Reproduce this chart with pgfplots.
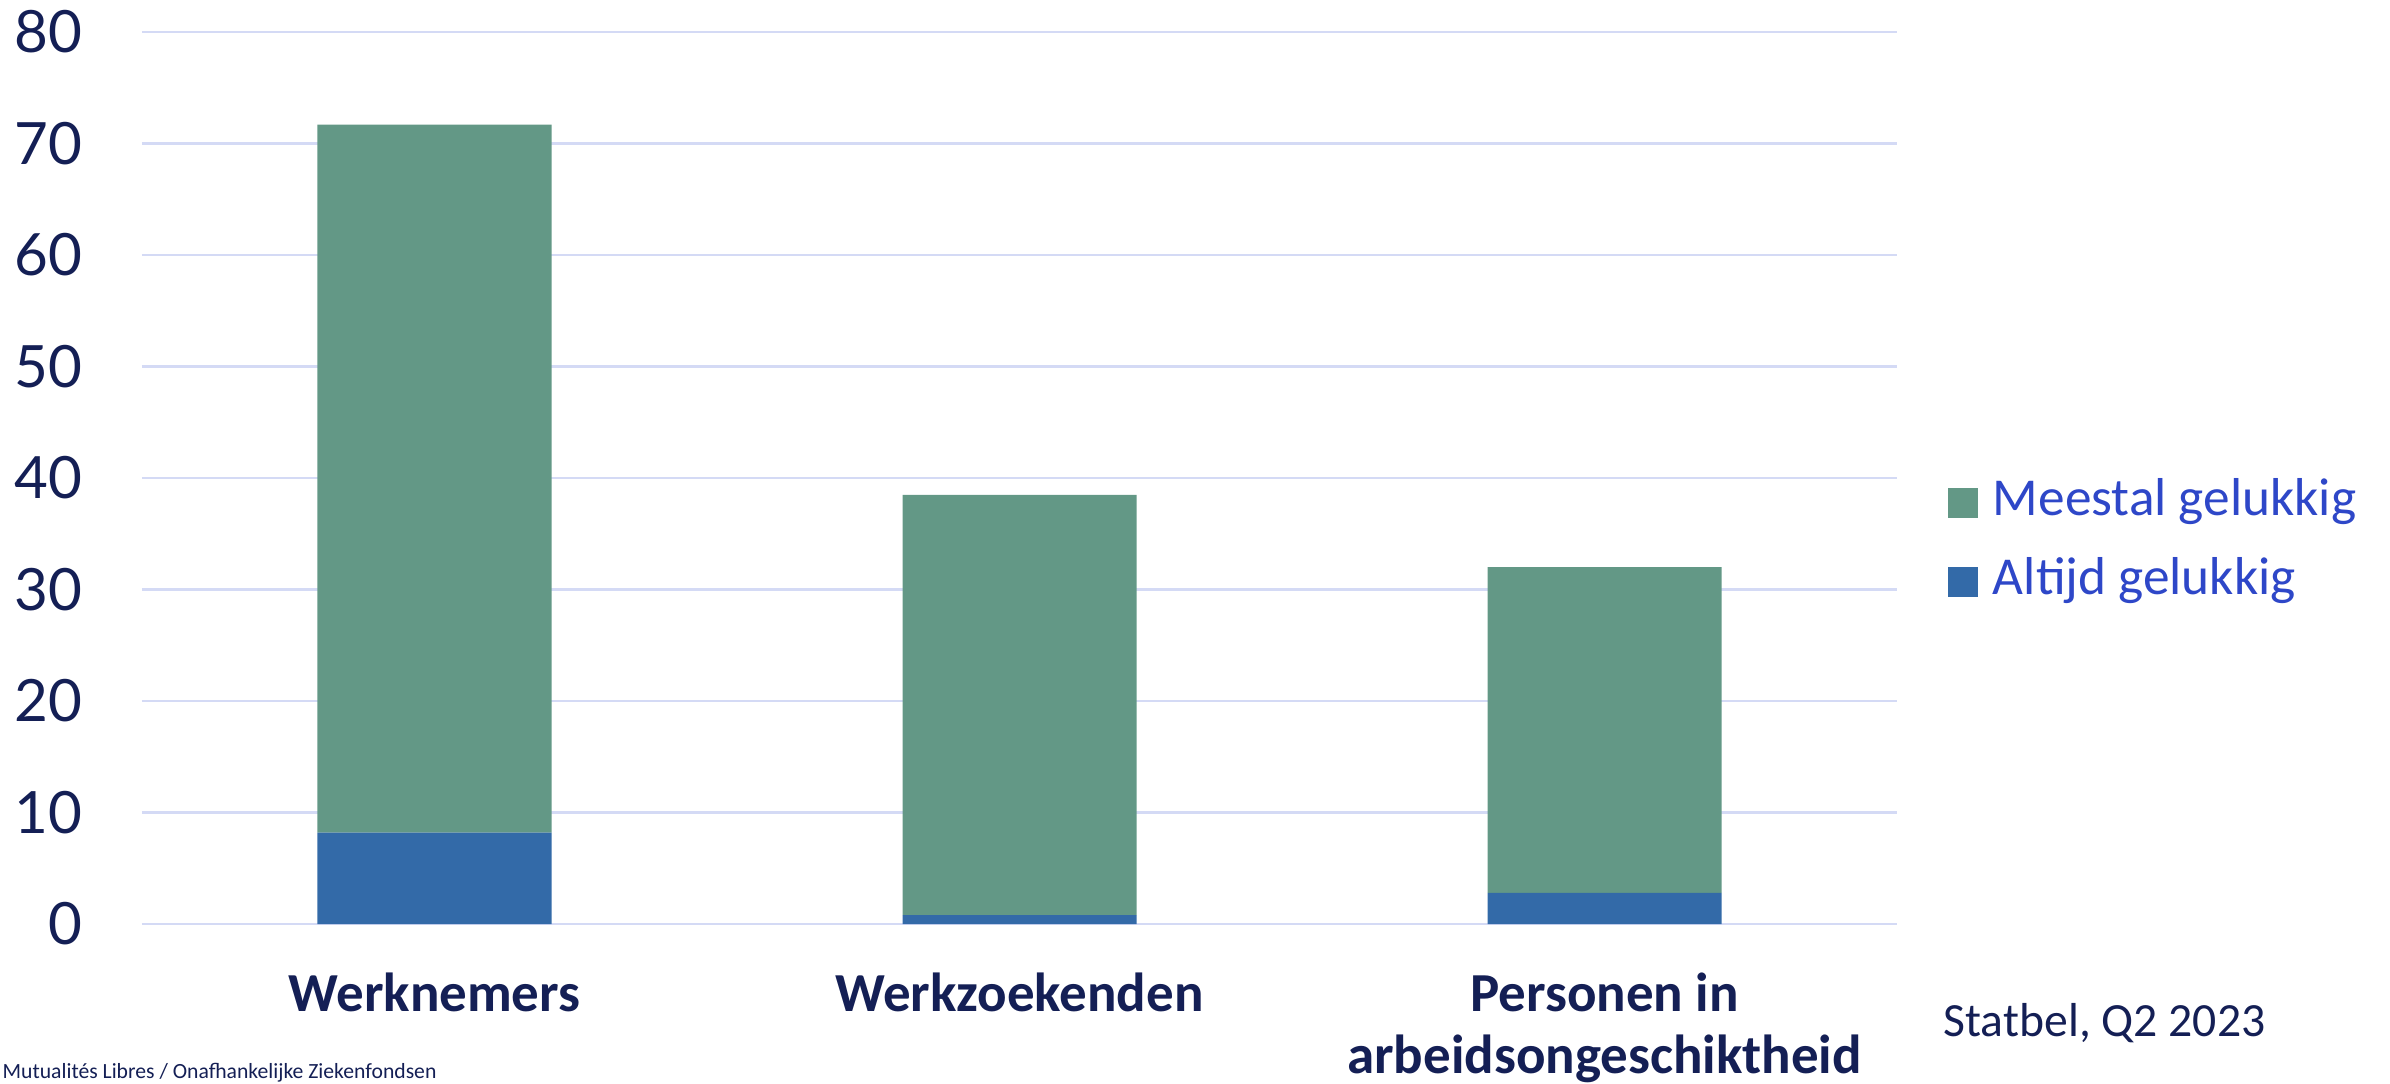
\documentclass[border=0pt]{standalone}
\usepackage{pgfplots}
\pgfplotsset{compat=1.18}
\usepackage{fontspec}
\setmainfont{Carlito}
\newfontfamily\tickfont{Lato}
\definecolor{cgreen}{HTML}{639886}
\definecolor{cblue}{HTML}{336AA8}
\definecolor{navy}{HTML}{141F55}
\definecolor{legblue}{HTML}{2E47C8}
\definecolor{gridc}{HTML}{D4DAF5}
\begin{document}
\begin{tikzpicture}
\useasboundingbox (-42.6pt,-47.7pt) rectangle (674.4pt,277.2pt);
\begin{axis}[
  at={(0,0)}, anchor=south west, scale only axis,
  width=526.5pt, height=267.6pt,
  ybar stacked, bar width=70.2pt,
  xmin=-0.5, xmax=2.5, ymin=0, ymax=80,
  ytick={0,10,...,80},
  xtick={0,1,2},
  xticklabels={Werknemers, Werkzoekenden, {Personen in\\arbeidsongeschiktheid}},
  xticklabel style={align=center, anchor=north, inner sep=0pt, yshift=-14.5pt,
    font=\bfseries\fontsize{16.5}{18.6}\selectfont, text=navy},
  yticklabel style={anchor=east, inner sep=0pt, xshift=-17.7pt,
    font=\tickfont\fontsize{17.5}{20}\selectfont, text=navy},
  /pgf/number format/assume math mode=true,
  axis line style={draw=none},
  tick style={draw=none},
  ymajorgrids, grid style={gridc, line width=0.8pt},
  legend style={at={(axis description cs:1.029,0.4277)}, anchor=west,
    draw=none, fill=none, inner sep=0pt, outer sep=0pt,
    font=\fontsize{16}{19}\selectfont, text=legblue, row sep=9.2pt,
    nodes={inner sep=0pt, text height=11pt, text depth=3.5pt},
    /tikz/every odd column/.append style={column sep=4.5pt}},
  legend cell align=left,
  legend image code/.code={\fill[#1] (0pt,-4.5pt) rectangle (9pt,4.5pt);},
  reverse legend,
]
\addplot[fill=cblue, draw=none] coordinates {(0,8.2) (1,0.8) (2,2.8)};
\addplot[fill=cgreen, draw=none] coordinates {(0,63.5) (1,37.7) (2,29.2)};
\legend{Altijd gelukkig, Meestal gelukkig}
\end{axis}
\node[anchor=base west, inner sep=0pt, text=navy, font=\fontsize{14.3}{17}\selectfont] at (540.3pt,-33.6pt) {Statbel, Q2 2023};
\node[anchor=base west, inner sep=0pt, text=navy, font=\fontsize{6.5}{8}\selectfont] at (-42pt,-46.2pt) {Mutualités Libres / Onafhankelijke Ziekenfondsen};
\end{tikzpicture}
\end{document}
